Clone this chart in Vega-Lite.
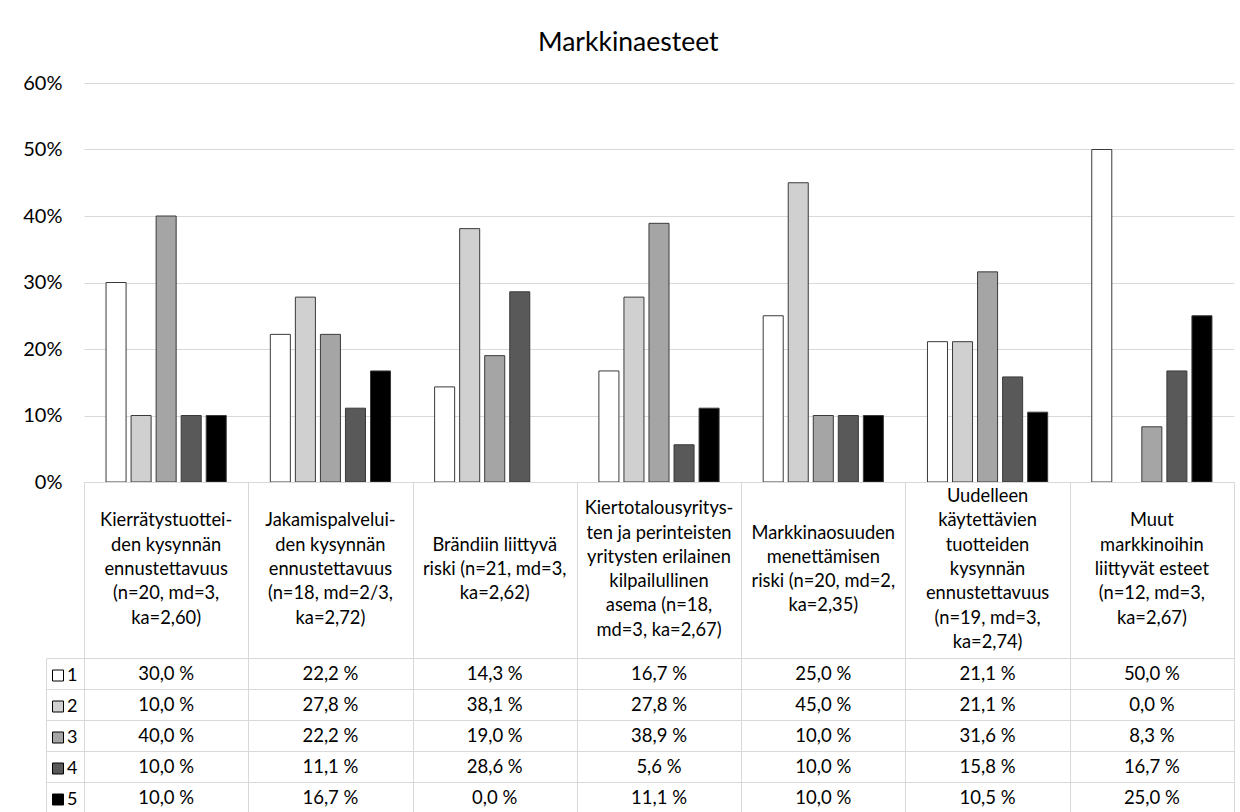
{
  "$schema": "https://vega.github.io/schema/vega-lite/v6.json",
  "padding": {"left": 22, "top": 29, "right": 5, "bottom": 0},
  "background": "white",
  "bounds": "flush",
  "title": {"text": "Markkinaesteet", "fontSize": 26.5, "font": "Lato", "fontWeight": "normal", "color": "#000000", "anchor": "middle", "offset": 17},
  "datasets": {
    "cats": [
      {"c": "C1", "label": "Kierrätystuottei-\nden kysynnän\nennustettavuus\n(n=20, md=3,\nka=2,60)"},
      {"c": "C2", "label": "Jakamispalvelui-\nden kysynnän\nennustettavuus\n(n=18, md=2/3,\nka=2,72)"},
      {"c": "C3", "label": "Brändiin liittyvä\nriski (n=21, md=3,\nka=2,62)"},
      {"c": "C4", "label": "Kiertotalousyritys-\nten ja perinteisten\nyritysten erilainen\nkilpailullinen\nasema (n=18,\nmd=3, ka=2,67)"},
      {"c": "C5", "label": "Markkinaosuuden\nmenettämisen\nriski (n=20, md=2,\nka=2,35)"},
      {"c": "C6", "label": "Uudelleen\nkäytettävien\ntuotteiden\nkysynnän\nennustettavuus\n(n=19, md=3,\nka=2,74)"},
      {"c": "C7", "label": "Muut\nmarkkinoihin\nliittyvät esteet\n(n=12, md=3,\nka=2,67)"}
    ],
    "vals": [
      {"c": "C1", "s": "1", "v": 30.0}, {"c": "C1", "s": "2", "v": 10.0}, {"c": "C1", "s": "3", "v": 40.0}, {"c": "C1", "s": "4", "v": 10.0}, {"c": "C1", "s": "5", "v": 10.0},
      {"c": "C2", "s": "1", "v": 22.2}, {"c": "C2", "s": "2", "v": 27.8}, {"c": "C2", "s": "3", "v": 22.2}, {"c": "C2", "s": "4", "v": 11.1}, {"c": "C2", "s": "5", "v": 16.7},
      {"c": "C3", "s": "1", "v": 14.3}, {"c": "C3", "s": "2", "v": 38.1}, {"c": "C3", "s": "3", "v": 19.0}, {"c": "C3", "s": "4", "v": 28.6}, {"c": "C3", "s": "5", "v": 0.0},
      {"c": "C4", "s": "1", "v": 16.7}, {"c": "C4", "s": "2", "v": 27.8}, {"c": "C4", "s": "3", "v": 38.9}, {"c": "C4", "s": "4", "v": 5.6}, {"c": "C4", "s": "5", "v": 11.1},
      {"c": "C5", "s": "1", "v": 25.0}, {"c": "C5", "s": "2", "v": 45.0}, {"c": "C5", "s": "3", "v": 10.0}, {"c": "C5", "s": "4", "v": 10.0}, {"c": "C5", "s": "5", "v": 10.0},
      {"c": "C6", "s": "1", "v": 21.1}, {"c": "C6", "s": "2", "v": 21.1}, {"c": "C6", "s": "3", "v": 31.6}, {"c": "C6", "s": "4", "v": 15.8}, {"c": "C6", "s": "5", "v": 10.5},
      {"c": "C7", "s": "1", "v": 50.0}, {"c": "C7", "s": "2", "v": 0.0}, {"c": "C7", "s": "3", "v": 8.3}, {"c": "C7", "s": "4", "v": 16.7}, {"c": "C7", "s": "5", "v": 25.0}
    ]
  },
  "spacing": 0,
  "resolve": {"scale": {"x": "independent", "y": "independent"}},
  "vconcat": [
    {
      "width": 1150,
      "height": 399,
      "view": {"stroke": null},
      "data": {"name": "vals"},
      "transform": [{"filter": "datum.v > 0"}],
      "mark": {"type": "bar", "stroke": "#3a3a3a", "strokeWidth": 1},
      "encoding": {
        "x": {"field": "c", "type": "nominal", "sort": null, "scale": {"paddingInner": 0, "paddingOuter": 0}, "axis": null},
        "xOffset": {"field": "s", "type": "nominal", "scale": {"domain": ["1", "2", "3", "4", "5"], "paddingInner": 0.2, "paddingOuter": 0.88}},
        "y": {"field": "v", "type": "quantitative", "scale": {"domain": [0, 60]},
          "axis": {"values": [0, 10, 20, 30, 40, 50, 60], "labelExpr": "datum.value + '%'", "grid": true, "gridColor": "#d9d9d9", "domain": false, "ticks": false, "labelPadding": 22, "labelFontSize": 20, "labelFont": "Lato", "labelColor": "#000000", "title": null, "minExtent": 62, "maxExtent": 62}},
        "color": {"field": "s", "type": "nominal",
          "scale": {"domain": ["1", "2", "3", "4", "5"], "range": ["#ffffff", "#d0d0d0", "#a5a5a5", "#595959", "#000000"]},
          "legend": {"orient": "none", "legendX": -35, "legendY": 583.5, "title": null, "symbolType": "square", "symbolSize": 121, "symbolStrokeColor": "#000000", "symbolStrokeWidth": 1, "labelFontSize": 18, "labelFont": "Lato", "labelColor": "#000000", "rowPadding": 13, "labelOffset": 0, "padding": 0}}
      }
    },
    {
      "width": 1150,
      "height": 176,
      "data": {"name": "cats"},
      "mark": {"type": "text", "lineBreak": "\n", "fontSize": 18.3, "lineHeight": 24.3, "font": "Lato", "color": "#000000", "baseline": "middle", "align": "center",
        "dy": {"expr": "-(length(split(datum.label, '\\n')) - 1) * 12.15"}},
      "encoding": {
        "x": {"field": "c", "type": "nominal", "sort": null, "scale": {"paddingInner": 0, "paddingOuter": 0},
          "axis": {"grid": true, "tickBand": "extent", "gridColor": "#d9d9d9", "labels": false, "ticks": false, "domain": false, "title": null}},
        "text": {"field": "label"}
      }
    },
    {
      "width": 1150,
      "height": 155,
      "data": {"name": "vals"},
      "transform": [{"calculate": "replace(format(datum.v, '.1f'), '.', ',') + ' %'", "as": "t"}],
      "mark": {"type": "text", "fontSize": 18.5, "font": "Lato", "color": "#000000", "baseline": "middle", "align": "center"},
      "encoding": {
        "x": {"field": "c", "type": "nominal", "sort": null, "scale": {"paddingInner": 0, "paddingOuter": 0},
          "axis": {"grid": true, "tickBand": "extent", "gridColor": "#d9d9d9", "labels": false, "ticks": false, "domain": false, "title": null}},
        "y": {"field": "s", "type": "nominal", "sort": null, "scale": {"paddingInner": 0, "paddingOuter": 0},
          "axis": {"grid": true, "tickBand": "extent", "gridColor": "#d9d9d9", "labels": false, "ticks": true, "tickSize": -38, "tickColor": "#d9d9d9", "domain": true, "domainColor": "#d9d9d9", "offset": 38, "title": null}},
        "text": {"field": "t"}
      }
    }
  ],
  "config": {
    "view": {"stroke": "#d9d9d9"},
    "font": "Lato"
  }
}
